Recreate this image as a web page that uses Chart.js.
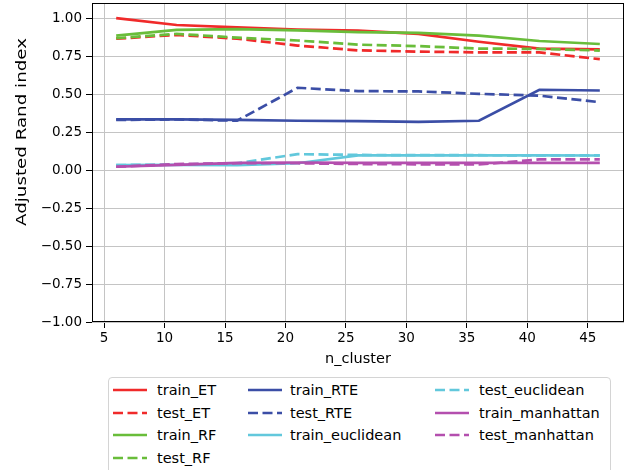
<!DOCTYPE html>
<html>
<head>
<meta charset="utf-8">
<script src="https://cdn.jsdelivr.net/npm/chart.js@4/dist/chart.umd.min.js"></script>
<style>
  html, body { margin: 0; padding: 0; background: #fff; overflow: hidden; width: 630px; height: 470px; }
  #wrap { position: relative; width: 630px; height: 470px; }
  #legend {
    position: absolute; left: 108px; top: 377px; width: 503px; height: 110px;
    border: 1px solid #d4d4d4; border-radius: 4px; background: #fff; box-sizing: border-box;
    font-family: "DejaVu Sans", sans-serif; font-size: 14.5px; color: #000;
  }
  .item { position: absolute; height: 20px; white-space: nowrap; }
  .item svg { position: absolute; left: 0; top: 0; }
  .item span { position: absolute; top: 0px; line-height: 20px; }
</style>
</head>
<body>
<div id="wrap">
  <canvas id="c" width="630" height="470"></canvas>
  <div id="legend"></div>
</div>
<script>
// n_cluster values on the x axis
const nCluster = [6, 11, 16, 21, 26, 31, 36, 41, 46];
const xTicks = [5, 10, 15, 20, 25, 30, 35, 40, 45];
const yTicks = [-1, -0.75, -0.5, -0.25, 0, 0.25, 0.5, 0.75, 1];
const xTitle = 'n_cluster';
const yTitle = 'Adjusted Rand index';

// Adjusted Rand index per method
const trainET        = [1.00, 0.955, 0.94, 0.925, 0.918, 0.897, 0.845, 0.80, 0.795];
const testET         = [0.865, 0.89, 0.865, 0.82, 0.788, 0.78, 0.775, 0.775, 0.73];
const trainRF        = [0.885, 0.923, 0.928, 0.92, 0.908, 0.903, 0.885, 0.85, 0.83];
const testRF         = [0.868, 0.897, 0.872, 0.853, 0.826, 0.816, 0.80, 0.798, 0.787];
const trainRTE       = [0.334, 0.334, 0.33, 0.325, 0.322, 0.318, 0.325, 0.529, 0.524];
const testRTE        = [0.33, 0.334, 0.325, 0.542, 0.52, 0.518, 0.502, 0.49, 0.447];
const trainEuclidean = [0.033, 0.034, 0.032, 0.045, 0.097, 0.097, 0.097, 0.097, 0.096];
const testEuclidean  = [0.033, 0.036, 0.045, 0.105, 0.10, 0.098, 0.098, 0.097, 0.097];
const trainManhattan = [0.022, 0.035, 0.048, 0.05, 0.048, 0.048, 0.048, 0.048, 0.048];
const testManhattan  = [0.022, 0.04, 0.045, 0.045, 0.04, 0.038, 0.037, 0.07, 0.07];

const seriesLabels = ['train_ET', 'test_ET', 'train_RF', 'test_RF', 'train_RTE', 'test_RTE',
                      'train_euclidean', 'test_euclidean', 'train_manhattan', 'test_manhattan'];
const seriesValues = [trainET, testET, trainRF, testRF, trainRTE, testRTE,
                      trainEuclidean, testEuclidean, trainManhattan, testManhattan];
const seriesColors = ['#f02a2a', '#f02a2a', '#69bd3a', '#69bd3a', '#3b4ea6', '#3b4ea6',
                      '#62c8dc', '#62c8dc', '#b44fae', '#b44fae'];

const LINE_W = 2.7;
const DASH = [10, 4.5];
const FONT = '"DejaVu Sans", sans-serif';

const datasets = seriesLabels.map((label, i) => ({
  label,
  data: nCluster.map((x, j) => ({ x, y: seriesValues[i][j] })),
  borderColor: seriesColors[i],
  backgroundColor: seriesColors[i],
  borderWidth: LINE_W,
  borderDash: label.startsWith('test') ? DASH : [],
  pointRadius: 0,
  tension: 0,
  fill: false,
  order: seriesLabels.length - i   // later series are drawn on top
}));

// black frame around the plotting area
const frame = {
  id: 'frame',
  afterDatasetsDraw(chart) {
    const { ctx, chartArea: a } = chart;
    ctx.save();
    ctx.strokeStyle = '#000';
    ctx.lineWidth = 1;
    ctx.strokeRect(Math.round(a.left) + 0.5, Math.round(a.top) + 0.5,
                   Math.round(a.right - a.left) - 1, Math.round(a.bottom - a.top) - 1);
    ctx.restore();
  }
};

// vertical y-axis title, stretched along its reading direction
const yAxisTitle = {
  id: 'yAxisTitle',
  afterDraw(chart) {
    const { ctx } = chart;
    ctx.save();
    ctx.font = '14.5px ' + FONT;
    ctx.fillStyle = '#000';
    ctx.textAlign = 'center';
    ctx.textBaseline = 'middle';
    const w = ctx.measureText(yTitle).width;
    ctx.translate(22, 132);
    ctx.rotate(-Math.PI / 2);
    ctx.scale(188 / w, 1);
    ctx.fillText(yTitle, 0, 0);
    ctx.restore();
  }
};

const chart = new Chart(document.getElementById('c'), {
  type: 'line',
  data: { datasets },
  plugins: [frame, yAxisTitle],
  options: {
    responsive: false,
    animation: false,
    devicePixelRatio: 1,
    layout: { padding: { top: 3, right: 6, bottom: 0, left: 0 } },
    plugins: { legend: { display: false }, tooltip: { enabled: false } },
    scales: {
      x: {
        type: 'linear',
        min: 4, max: 48,
        afterBuildTicks: s => { s.ticks = xTicks.map(v => ({ value: v })); },
        afterFit: s => { s.height = 148; s.paddingLeft = 0; s.paddingRight = 0; },
        ticks: { font: { family: FONT, size: 13.5 }, color: '#000', padding: 2, maxRotation: 0, autoSkip: false,
                 callback: v => String(v) },
        grid: { color: '#c4c4c4', lineWidth: 1, tickColor: '#000', tickLength: 6 },
        border: { display: false },
        title: { display: true, text: xTitle, font: { family: FONT, size: 14.5 }, color: '#000',
                 padding: { top: 0, bottom: 102 } }
      },
      y: {
        type: 'linear',
        min: -1, max: 1.1,
        afterBuildTicks: s => { s.ticks = yTicks.map(v => ({ value: v })); },
        afterFit: s => { s.width = 92; s.paddingTop = 0; s.paddingBottom = 0; },
        ticks: { font: { family: FONT, size: 13.5 }, color: '#000', padding: 4,
                 callback: v => v.toFixed(2).replace('-', '\u2212') },
        grid: { color: '#c4c4c4', lineWidth: 1, tickColor: '#000', tickLength: 6 },
        border: { display: false },
        title: { display: false }
      }
    }
  }
});

// legend laid out in three columns, filled column by column
const legendEl = document.getElementById('legend');
const colRows = [4, 3, 3];
const colSampleX = [4, 139, 326];
const colTextX = [48, 181, 370];
const rowY = [2, 24.5, 47, 69.5];
let idx = 0;
colRows.forEach((rows, c) => {
  for (let r = 0; r < rows; r++, idx++) {
    const ds = chart.data.datasets[idx];
    const item = document.createElement('div');
    item.className = 'item';
    item.style.left = colSampleX[c] + 'px';
    item.style.top = rowY[r] + 'px';
    const dash = ds.borderDash.length ? `stroke-dasharray="${ds.borderDash.join(' ')}"` : '';
    item.innerHTML =
      `<svg width="36" height="20"><line x1="0" y1="10" x2="34" y2="10" stroke="${ds.borderColor}" ` +
      `stroke-width="${LINE_W}" ${dash}/></svg>` +
      `<span style="left:${colTextX[c] - colSampleX[c]}px">${ds.label}</span>`;
    legendEl.appendChild(item);
  }
});
</script>
</body>
</html>
